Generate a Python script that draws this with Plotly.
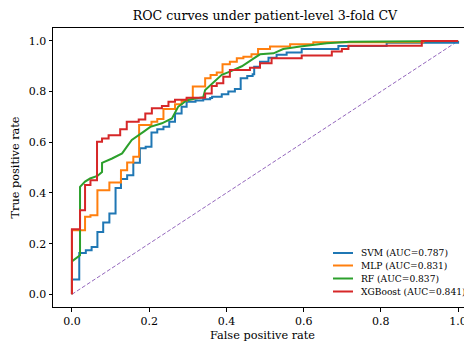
import plotly.graph_objects as go

# ---- data ----
svm_fpr = [0.0, 0.0, 0.019, 0.036, 0.051, 0.066, 0.081, 0.097, 0.113, 0.127, 0.143, 0.159, 0.176, 0.191,
           0.206, 0.221, 0.237, 0.252, 0.267, 0.284, 0.297, 0.32, 0.34, 0.358, 0.363, 0.388, 0.405, 0.422,
           0.437, 0.454, 0.468, 0.472, 0.487, 0.509, 0.53, 0.556, 0.595, 0.69, 0.815, 1.0]
svm_tpr = [0.0, 0.059, 0.163, 0.174, 0.187, 0.246, 0.283, 0.319, 0.42, 0.455, 0.47, 0.519, 0.576, 0.582,
           0.639, 0.651, 0.661, 0.681, 0.714, 0.74, 0.76, 0.765, 0.77, 0.775, 0.78, 0.79, 0.8, 0.81,
           0.853, 0.862, 0.868, 0.898, 0.918, 0.934, 0.945, 0.954, 0.968, 0.98, 0.993, 1.0]

mlp_fpr = [0.0, 0.0, 0.034, 0.048, 0.066, 0.097, 0.127, 0.143, 0.159, 0.174, 0.206, 0.221, 0.237, 0.267,
           0.284, 0.297, 0.313, 0.345, 0.359, 0.375, 0.39, 0.409, 0.427, 0.444, 0.465, 0.482, 0.513,
           0.565, 0.625, 0.91, 1.0]
mlp_tpr = [0.0, 0.253, 0.306, 0.312, 0.411, 0.441, 0.49, 0.52, 0.543, 0.668, 0.681, 0.692, 0.731, 0.75,
           0.763, 0.77, 0.82, 0.853, 0.866, 0.875, 0.908, 0.918, 0.932, 0.938, 0.947, 0.968, 0.978,
           0.987, 0.995, 1.0, 1.0]

rf_fpr = [0.0, 0.021, 0.021, 0.034, 0.047, 0.066, 0.078, 0.078, 0.104, 0.13, 0.142, 0.155, 0.186, 0.203,
          0.233, 0.259, 0.275, 0.297, 0.313, 0.34, 0.345, 0.37, 0.388, 0.409, 0.44, 0.47, 0.487, 0.522,
          0.547, 0.591, 0.66, 0.72, 1.0]
rf_tpr = [0.13, 0.154, 0.424, 0.445, 0.457, 0.467, 0.483, 0.519, 0.536, 0.556, 0.582, 0.609, 0.642, 0.661,
          0.675, 0.694, 0.74, 0.765, 0.771, 0.778, 0.806, 0.839, 0.866, 0.879, 0.9, 0.93, 0.947, 0.951,
          0.968, 0.978, 0.991, 0.997, 1.0]

xgb_fpr = [0.0, 0.0, 0.021, 0.034, 0.048, 0.065, 0.078, 0.095, 0.125, 0.142, 0.173, 0.19, 0.207, 0.233,
           0.25, 0.267, 0.297, 0.345, 0.362, 0.375, 0.392, 0.409, 0.461, 0.487, 0.517, 0.595, 0.673,
           0.699, 0.716, 0.906, 1.0]
xgb_tpr = [0.0, 0.257, 0.332, 0.431, 0.45, 0.602, 0.615, 0.628, 0.651, 0.681, 0.69, 0.714, 0.734, 0.743,
           0.76, 0.768, 0.776, 0.793, 0.822, 0.833, 0.859, 0.885, 0.894, 0.912, 0.932, 0.942, 0.958,
           0.968, 0.981, 1.0, 1.0]

names = ["SVM (AUC=0.787)", "MLP (AUC=0.831)", "RF (AUC=0.837)", "XGBoost (AUC=0.841)"]
colors = ["#1f77b4", "#ff7f0e", "#2ca02c", "#d62728"]
x_ticks = [0.0, 0.2, 0.4, 0.6, 0.8, 1.0]
y_ticks = [0.0, 0.2, 0.4, 0.6, 0.8, 1.0]
tick_text = ["0.0", "0.2", "0.4", "0.6", "0.8", "1.0"]
diag = [0.0, 1.0]

FONT = "DejaVu Serif"
OFF = 8  # default page body margin
W, H = 472 - OFF, 345 - OFF
ML, MR, MT, MB = 53 - OFF, 0, 28 - OFF, 38
PW, PH = W - ML - MR, H - MT - MB


def px_x(px):
    return (px - OFF - ML) / PW


def px_y(py):
    return (H - MB - (py - OFF)) / PH


fig = go.Figure()
fig.add_trace(go.Scatter(x=diag, y=diag, mode="lines", showlegend=False,
                         line=dict(color="#9467bd", width=1, dash="4px,2px"), hoverinfo="skip"))
series = [(svm_fpr, svm_tpr, "hv"), (mlp_fpr, mlp_tpr, "hv"), (rf_fpr, rf_tpr, "linear"),
          (xgb_fpr, xgb_tpr, "hv")]
for (fx, ty, shape), name, col in zip(series, names, colors):
    fig.add_trace(go.Scatter(x=fx, y=ty, mode="lines", name=name, showlegend=False,
                             line=dict(color=col, width=2, shape=shape)))

# legend drawn as handles + labels (compact matplotlib-like spacing)
row_y = [253, 265.5, 278.5, 291.5]
for name, col, ry in zip(names, colors, row_y):
    fig.add_shape(type="line", xref="paper", yref="paper",
                  x0=px_x(333), x1=px_x(353), y0=px_y(ry), y1=px_y(ry),
                  line=dict(color=col, width=2))
    fig.add_annotation(xref="paper", yref="paper", x=px_x(359), y=px_y(ry),
                       xanchor="left", yanchor="middle", showarrow=False, text=name,
                       font=dict(family=FONT, size=9.1, color="black"))

fig.update_layout(
    width=W, height=H,
    margin=dict(l=ML, r=MR, t=MT, b=MB),
    plot_bgcolor="white", paper_bgcolor="white",
    font=dict(family=FONT, size=11, color="black"),
    title=dict(text="ROC curves under patient-level 3-fold CV", x=px_x(265), xref="paper",
               xanchor="center", y=1 - (16 - OFF) / H, yref="container", yanchor="middle",
               font=dict(family=FONT, size=12.6, color="black")),
    showlegend=False,
)
fig.update_xaxes(range=[-0.049, 1.036], tickvals=x_ticks, ticktext=tick_text, automargin=False,
                 showgrid=False, zeroline=False, showline=True, linecolor="black", linewidth=1,
                 mirror=True, ticks="outside", ticklen=3.5, tickcolor="black",
                 title=dict(text="False positive rate", standoff=4, font=dict(size=11.3)))
fig.update_yaxes(range=[-0.05, 1.051], tickvals=y_ticks, ticktext=tick_text, automargin=False,
                 showgrid=False, zeroline=False, showline=True, linecolor="black", linewidth=1,
                 mirror=False, ticks="outside", ticklen=3.5, tickcolor="black",
                 title=dict(text="True positive rate", standoff=6, font=dict(size=11.3)))

fig.write_html("out.html")
